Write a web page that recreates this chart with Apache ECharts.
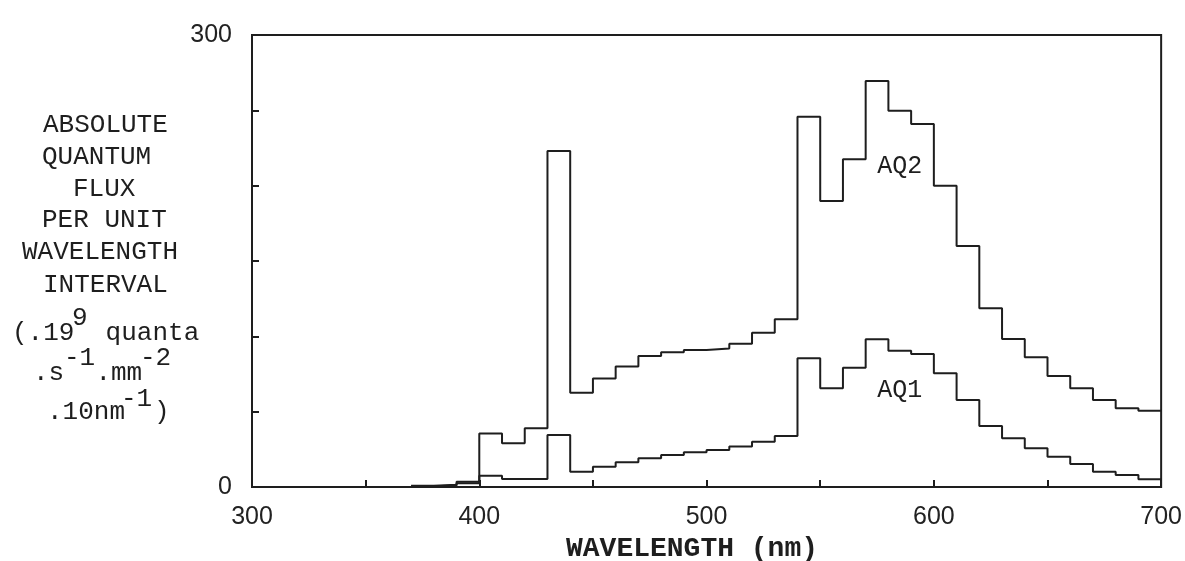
<!DOCTYPE html>
<html>
<head>
<meta charset="utf-8">
<script src="https://cdn.jsdelivr.net/npm/echarts@6/dist/echarts.min.js"></script>
<style>
html,body{margin:0;padding:0;background:#fff;}
#chart{width:1185px;height:561px;}
</style>
</head>
<body>
<div id="chart"></div>
<script>
// Bin start wavelengths (nm), 10 nm wide bins
const binStarts = [370,380,390,400,410,420,430,440,450,460,470,480,490,500,510,520,530,540,550,560,570,580,590,600,610,620,630,640,650,660,670,680,690];
const binEnd = 700;
const aq2 = [0.8,1.5,3.5,35.5,29,39,223,62.6,72,80,87,89.4,91,92,95,102.4,111.3,245.8,189.8,217.5,269.5,249.8,240.9,200,160,118.6,98.2,86.1,73.7,65.5,57.7,52.2,50.6];
const aq1 = [0.5,1,2.5,7.5,5.3,5.3,34.5,10.2,13.5,16.4,19,21.2,23,24.6,26.8,30.1,33.8,85.4,65.5,79.2,98,90.5,88.3,75.5,57.7,40.5,32.3,25.7,20.1,15.3,10.2,8,5.1];
const xTickLabels = [300,400,500,600,700];
const yTickLabels = [0,300];
const seriesLabels = [
  {text:'AQ2', at:[585, 213]},
  {text:'AQ1', at:[585, 64]}
];

function stepData(vals){
  const d = binStarts.map((x,i)=>[x, vals[i]]);
  d.push([binEnd, vals[vals.length-1]]);
  return d;
}

const INK = '#1e1e1e';
const MONO = '"Liberation Mono","DejaVu Sans Mono",monospace';
const SANS = '"Liberation Sans","DejaVu Sans",sans-serif';

const chart = echarts.init(document.getElementById('chart'), null, {renderer:'canvas'});

const titleLines = [
  {t:'ABSOLUTE', x:43, y:125},
  {t:'QUANTUM', x:42, y:157},
  {t:'FLUX', x:73, y:189},
  {t:'PER UNIT', x:42, y:220},
  {t:'WAVELENGTH', x:22, y:252},
  {t:'INTERVAL', x:43, y:285},
  {t:'(.19  quanta', x:12, y:333},
  {t:'9', x:72, y:318},
  {t:'.s  .mm', x:33, y:373},
  {t:'-1', x:64, y:358},
  {t:'-2', x:140, y:358},
  {t:'.10nm', x:47, y:412},
  {t:'-1', x:121, y:399},
  {t:')', x:154, y:412}
];

const graphics = titleLines.map(l=>({
  type:'text', x:l.x, y:l.y, silent:true,
  style:{text:l.t, fill:INK, font:'26px '+MONO, align:'left', verticalAlign:'middle', textAlign:'left', textVerticalAlign:'middle'}
}));
graphics.push({
  type:'text', x:692, y:549, silent:true,
  style:{text:'WAVELENGTH (nm)', fill:INK, font:'bold 28px '+MONO, align:'center', verticalAlign:'middle', textAlign:'center', textVerticalAlign:'middle'}
});

chart.setOption({
  animation:false,
  backgroundColor:'#fff',
  grid:{left:252, right:22, top:35, bottom:74, show:true, borderColor:INK, borderWidth:2, backgroundColor:'transparent'},
  xAxis:{
    type:'value', min:300, max:700, interval:50,
    axisLine:{show:true, lineStyle:{color:INK, width:2}},
    axisTick:{show:true, inside:true, length:7, lineStyle:{color:INK, width:2}},
    splitLine:{show:false},
    axisLabel:{
      color:'#222', fontFamily:SANS, fontSize:25, margin:18,
      formatter:v=> xTickLabels.indexOf(v)>=0 ? String(v) : ''
    }
  },
  yAxis:{
    type:'value', min:0, max:300, interval:50,
    axisLine:{show:true, lineStyle:{color:INK, width:2}},
    axisTick:{show:true, inside:true, length:7, lineStyle:{color:INK, width:2}},
    splitLine:{show:false},
    axisLabel:{
      color:'#222', fontFamily:SANS, fontSize:25, margin:20, padding:[0,0,16,0],
      formatter:v=> yTickLabels.indexOf(v)>=0 ? String(v) : ''
    }
  },
  series:[
    {type:'line', name:'AQ2', step:'end', data:stepData(aq2), showSymbol:false, symbol:'none',
     lineStyle:{color:INK, width:2}},
    {type:'line', name:'AQ1', step:'end', data:stepData(aq1), showSymbol:false, symbol:'none',
     lineStyle:{color:INK, width:2}}
  ],
  graphic:graphics
});

// series name labels positioned in data coordinates
const extra = seriesLabels.map(s=>{
  const p = chart.convertToPixel({gridIndex:0}, s.at);
  return {type:'text', x:p[0], y:p[1], silent:true,
    style:{text:s.text, fill:INK, font:'25px '+MONO, align:'center', verticalAlign:'middle', textAlign:'center', textVerticalAlign:'middle'}};
});
chart.setOption({graphic:graphics.concat(extra)});
</script>
</body>
</html>
